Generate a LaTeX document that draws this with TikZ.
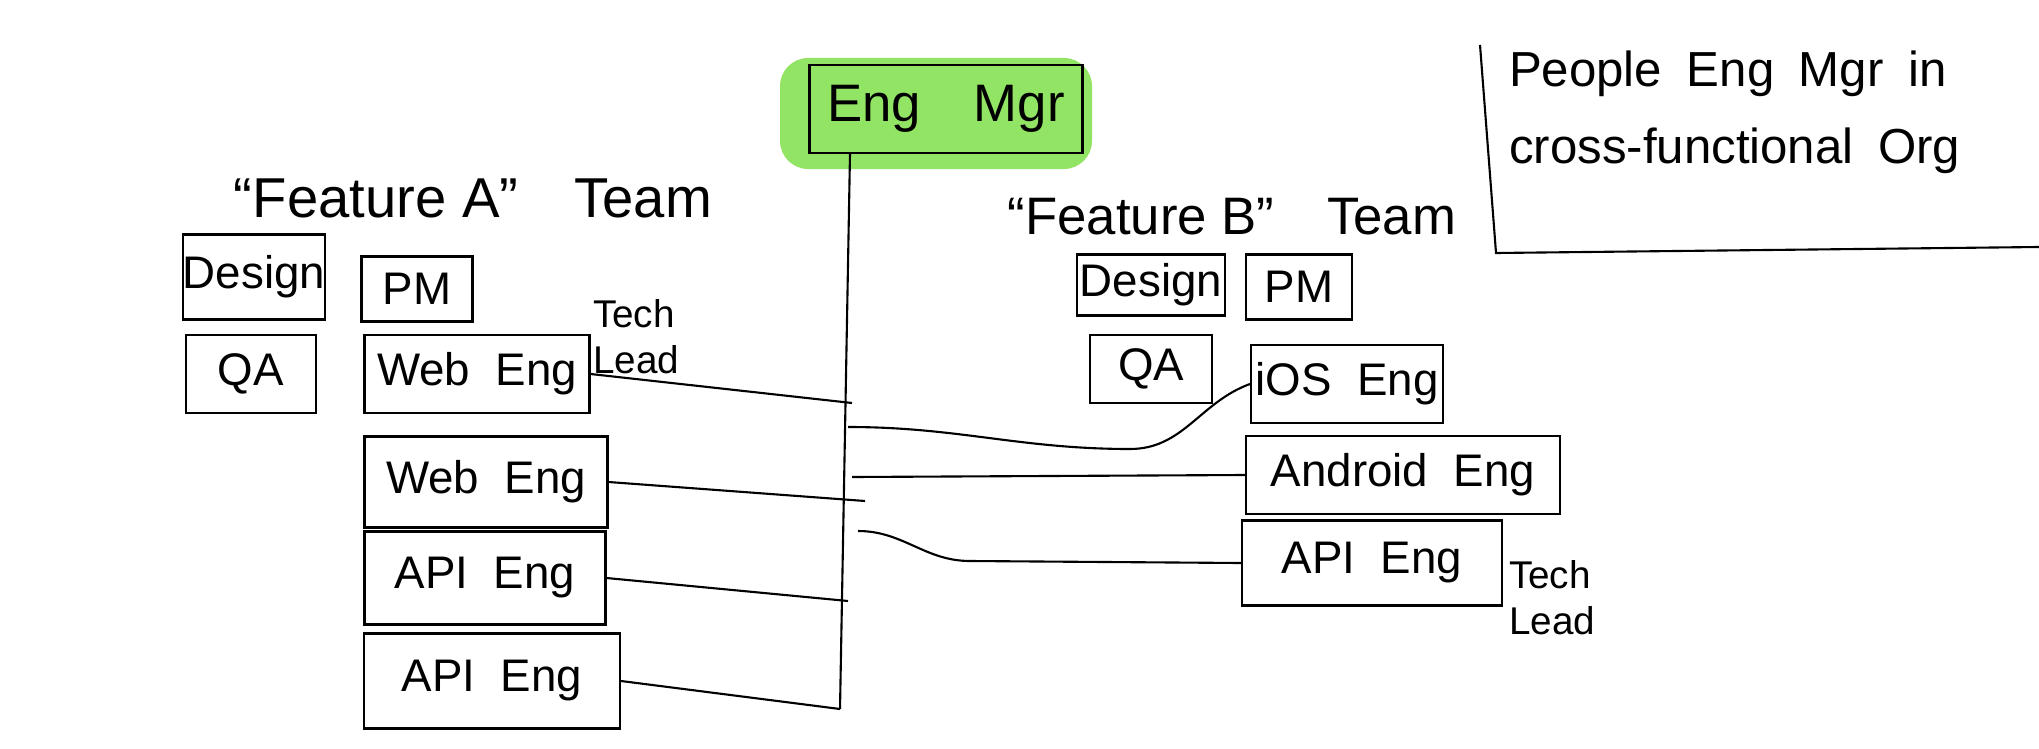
\documentclass[tikz,border=0pt]{standalone}
\usepackage{fontspec}
\setmainfont{Liberation Sans}
\definecolor{mgrgreen}{RGB}{146,228,100}

\begin{document}
\begin{tikzpicture}

\useasboundingbox (0,0) rectangle (20.39,-7.48);

\fill[mgrgreen, rounded corners=8pt] (7.80,-0.58) rectangle (10.92,-1.69);

\begin{scope}[rectangle, semithick, inner sep=0pt, font=\fontsize{13}{15}\selectfont]
  \node[draw, minimum width=2.73cm, minimum height=0.88cm, font=\fontsize{15}{17}\selectfont] (mgr) at ( 9.46,-1.09) {Eng\quad Mgr};

  \node (titleA) at ( 4.73,-1.98) {\fontsize{16}{18}\selectfont ``Feature A''\quad Team};
  \node[draw, minimum width=1.36cm, minimum height=0.85cm] (designA) at ( 2.54,-2.77) {Design};
  \node[draw, minimum width=1.30cm, minimum height=0.78cm] (qaA)     at ( 2.51,-3.74) {QA};
  \node[draw, minimum width=1.11cm, minimum height=0.65cm] (pmA)     at ( 4.17,-2.89) {PM};
  \node[draw, minimum width=2.25cm, minimum height=0.78cm] (webA1)   at ( 4.77,-3.74) {Web\ \ Eng};
  \node[draw, minimum width=2.43cm, minimum height=0.91cm] (webA2)   at ( 4.86,-4.82) {Web\ \ Eng};
  \node[draw, minimum width=2.41cm, minimum height=0.93cm] (apiA1)   at ( 4.85,-5.78) {API\ \ Eng};
  \node[draw, minimum width=2.56cm, minimum height=0.95cm] (apiA2)   at ( 4.92,-6.81) {API\ \ Eng};
  \node[anchor=west, align=left, font=\fontsize{11}{13}\selectfont] (leadA) at ( 5.92,-3.37) {Tech\\Lead};

  \node (titleB) at (12.32,-2.17) {\fontsize{15}{17}\selectfont ``Feature B''\quad Team};
  \node[draw, minimum width=1.48cm, minimum height=0.61cm] (designB) at (11.51,-2.85) {Design};
  \node[draw, minimum width=1.06cm, minimum height=0.65cm] (pmB)     at (12.99,-2.87) {PM};
  \node[draw, minimum width=1.22cm, minimum height=0.68cm] (qaB)     at (11.51,-3.69) {QA};
  \node[draw, minimum width=1.92cm, minimum height=0.78cm] (iosB)    at (13.47,-3.84) {iOS\ \ Eng};
  \node[draw, minimum width=3.14cm, minimum height=0.78cm] (androidB) at (14.03,-4.75) {Android\ \ Eng};
  \node[draw, minimum width=2.60cm, minimum height=0.85cm] (apiB)    at (13.72,-5.63) {API\ \ Eng};
  \node[anchor=west, align=left, font=\fontsize{11}{13}\selectfont] (leadB) at (15.08,-5.98) {Tech\\Lead};

  \node[anchor=west, align=left, font=\fontsize{14}{16}\selectfont] (note) at (15.08,-1.12) {People\enspace Eng\enspace Mgr\enspace in\\[6pt] cross-functional\enspace Org};
\end{scope}

\coordinate (trunktop) at (8.50,-1.53);
\coordinate (trunkbot) at (8.40,-7.09);
\coordinate (jwebA1) at (8.52,-4.03);
\coordinate (jwebA2) at (8.65,-5.01);
\coordinate (japiA1) at (8.48,-6.01);
\coordinate (jios)   at (8.48,-4.27);
\coordinate (jandr)  at (8.52,-4.77);
\coordinate (japiB)  at (8.58,-5.31);
\coordinate (notetop) at (14.80,-0.45);
\coordinate (notecorner) at (14.96,-2.53);
\coordinate (noteend) at (20.39,-2.47);

\begin{scope}[semithick]
  \draw (trunktop) -- (trunkbot);
  \draw (webA1.east) -- (jwebA1);
  \draw (webA2.east) -- (jwebA2);
  \draw (apiA1.east) -- (japiA1);
  \draw (apiA2.east) -- (trunkbot);

  \draw (jios) to[out=0, in=180] (11.30,-4.49) to[out=0, in=200] (iosB.west);
  \draw (jandr) -- (androidB.west);
  \draw (japiB) to[out=0, in=180] (9.70,-5.61) -- (apiB.west);

  \draw (notetop) -- (notecorner) -- (noteend);
\end{scope}

\end{tikzpicture}
\end{document}
